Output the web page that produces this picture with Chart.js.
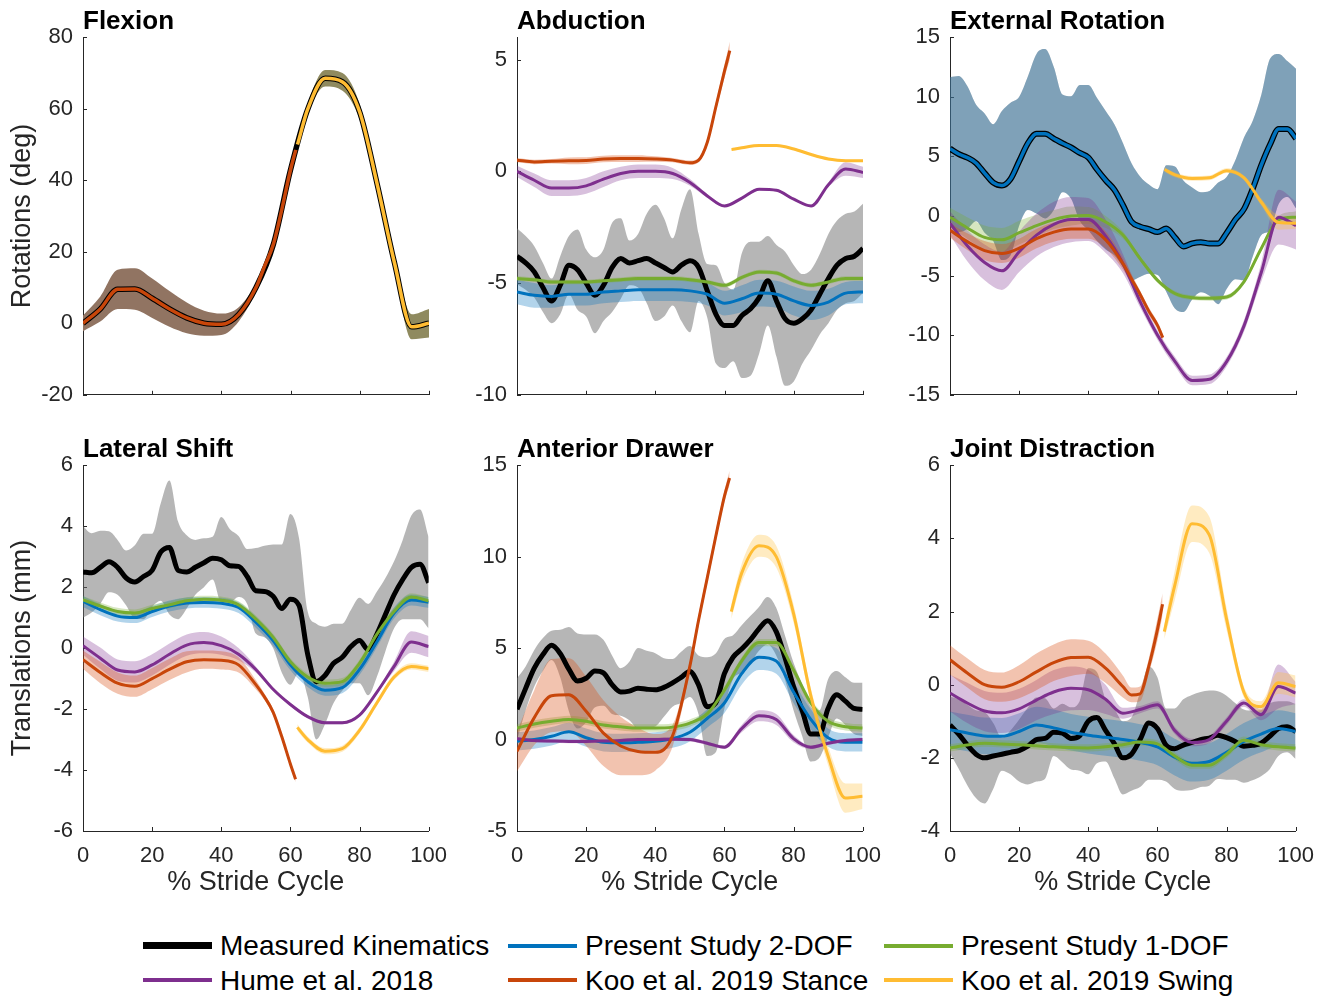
<!DOCTYPE html>
<html lang="en">
<head>
  <meta charset="UTF-8" />
  <title>Knee kinematics over the stride cycle</title>
  <script src="https://cdn.jsdelivr.net/npm/chart.js"></script>
  <style>
    body { margin: 0; background: #fff; font-family: 'Liberation Sans', Arial, Helvetica, sans-serif; }
    #wrap { position: relative; width: 1328px; height: 996px; overflow: hidden; background: #fff; }
    canvas.panel { position: absolute; }
    .lg-line { position: absolute; width: 69px; }
    .lg-text { position: absolute; font-size: 28px; line-height: 28px; color: #000; white-space: nowrap; }
  </style>
</head>
<body>
<div id="wrap">
  <canvas id="p0" class="panel"></canvas>
  <canvas id="p1" class="panel"></canvas>
  <canvas id="p2" class="panel"></canvas>
  <canvas id="p3" class="panel"></canvas>
  <canvas id="p4" class="panel"></canvas>
  <canvas id="p5" class="panel"></canvas>
  <div id="legend"></div>
</div>

<script>
// % stride cycle sample points
const X5 = [0,5,10,15,20,25,30,35,40,45,50,55,60,65,70,75,80,85,90,95,100];
const X25 = [0,2.5,5,7.5,10,12.5,15,17.5,20,22.5,25,27.5,30,32.5,35,37.5,40,42.5,45,47.5,50,52.5,55,57.5,60,62.5,65,67.5,70,72.5,75,77.5,80,82.5,85,87.5,90,92.5,95,97.5,100];
const KOO_ST_X = [0,5,10,15,20,25,30,35,40,45,50,52.5,55,57.5,60,61.5];
const KOO_SW_X = [62,65,70,75,80,85,90,95,100];

// Flexion (deg)
const flexMean = [0,4,9.5,9.6,7,4,1.5,0,-0.3,2.5,10,22,43,60,68.5,67.5,59,39,17,-1,0];
const flexStance = [0,4,9.5,9.6,7,4,1.5,0,-0.3,2.5,10,16,22,32,43,48.5];
const flexStanceSd = [2.2,3.5,5.5,5.8,5.5,5,4.3,3.5,3,2,1.2,1,1,1,1,1];
const flexSwing = [50,60,68.5,67.5,59,39,17,-1,0];
const flexSwingSd = [1.2,1.5,2.3,2.5,2.2,1.8,2,3.5,4];

// Abduction (deg)
const abdMeas = [-3.8,-4.1,-4.5,-5.2,-5.8,-5.1,-4.2,-4.4,-5.0,-5.55,-5.1,-4.3,-3.9,-4.1,-4.0,-3.9,-4.1,-4.3,-4.5,-4.2,-4.0,-4.3,-5.35,-6.4,-6.9,-6.9,-6.45,-6.15,-5.65,-4.9,-5.8,-6.6,-6.8,-6.6,-6.2,-5.5,-4.8,-4.2,-3.9,-3.8,-3.45];
const abdMeasSd = [1.25,1.2,1.15,1.1,1.0,1.3,1.3,1.8,1.5,1.7,1.6,2.0,1.8,1.0,1.2,2.0,2.6,2.2,1.5,2.5,3.2,1.5,1.2,2.2,1.9,1.6,2.8,3.0,2.5,2.0,2.5,3.0,2.6,2.0,1.8,1.8,2.0,2.0,2.0,2.0,2.0];
const abd2dof = [-5.4,-5.55,-5.6,-5.5,-5.5,-5.4,-5.35,-5.3,-5.3,-5.3,-5.35,-5.5,-5.9,-5.7,-5.45,-5.5,-5.8,-6.0,-5.85,-5.45,-5.4];
const abd2dofSd = [0.55,0.55,0.5,0.5,0.5,0.5,0.5,0.5,0.5,0.5,0.5,0.5,0.55,0.6,0.6,0.6,0.65,0.65,0.6,0.5,0.5];
const abd1dof = [-4.8,-4.85,-4.95,-4.95,-4.95,-4.9,-4.85,-4.8,-4.8,-4.8,-4.85,-4.95,-5.1,-4.75,-4.5,-4.55,-4.9,-5.1,-4.95,-4.8,-4.8];
const abd1dofSd = [0.1,0.1,0.1,0.1,0.1,0.1,0.1,0.1,0.1,0.1,0.1,0.1,0.1,0.1,0.1,0.1,0.1,0.1,0.1,0.1,0.1];
const abdHume = [0,-0.4,-0.75,-0.75,-0.65,-0.35,-0.1,0.0,0.0,-0.1,-0.5,-1.1,-1.55,-1.2,-0.8,-0.85,-1.25,-1.55,-0.6,0.1,-0.05];
const abdHumeSd = [0.25,0.3,0.35,0.35,0.35,0.35,0.3,0.3,0.3,0.25,0.15,0.08,0.05,0.05,0.05,0.05,0.05,0.05,0.1,0.3,0.25];
const abdKooSt = [0.5,0.42,0.45,0.47,0.48,0.55,0.57,0.57,0.55,0.5,0.38,0.5,1.3,2.9,4.5,5.4];
const abdKooStSd = [0.1,0.1,0.1,0.15,0.15,0.15,0.15,0.15,0.12,0.1,0.1,0.1,0.15,0.2,0.3,0.4];
const abdKooSw = [0.97,1.05,1.15,1.15,1.0,0.75,0.55,0.47,0.47];
const abdKooSwSd = [0.05,0.05,0.05,0.05,0.05,0.05,0.05,0.05,0.05];

// External rotation (deg)
const extMeas = [5.65,5.2,4.9,4.45,3.6,2.8,2.55,3.1,4.6,6.1,6.9,6.9,6.5,6.1,5.75,5.3,4.9,3.9,3.0,2.2,0.9,-0.5,-0.9,-1.1,-1.35,-1.05,-1.8,-2.55,-2.3,-2.2,-2.3,-2.3,-1.4,-0.3,0.6,2.3,4.3,6.0,7.3,7.3,6.5];
const extMeasSd = [6.0,6.55,6.0,4.9,5.0,4.9,6.25,6.4,5.4,5.6,6.7,7.1,6.0,4.1,4.3,5.7,6.1,6.0,5.8,5.5,5.2,4.9,4.2,3.75,3.6,5.3,5.95,5.5,4.7,4.2,4.4,5.1,4.7,5.0,6.0,5.7,5.9,7.2,6.3,5.7,5.85];
const ext2dof = extMeas;     // driven with the measured rotation, curves coincide (X25 grid)
const ext2dofSd = extMeasSd;
const ext1dof = [-0.1,-1.0,-1.8,-2.0,-1.4,-0.8,-0.3,0.0,0.05,-0.5,-1.6,-3.6,-5.4,-6.5,-6.85,-6.9,-6.8,-5.5,-2.7,-0.3,-0.1];
const ext1dofSd = [0.8,0.9,1.0,1.0,1.0,0.9,0.8,0.8,0.7,0.5,0.3,0.2,0.2,0.2,0.2,0.2,0.2,0.2,0.2,0.3,0.5];
const extHume = [-0.6,-2.5,-3.9,-4.6,-3.0,-1.6,-0.7,-0.3,-0.3,-1.7,-4.0,-7.2,-10.0,-12.2,-13.8,-13.7,-12.2,-9.2,-4.7,-0.1,-0.8];
const extHumeSd = [1.0,1.3,1.5,1.6,1.7,1.8,1.9,1.9,1.8,1.4,0.8,0.5,0.4,0.4,0.4,0.4,0.4,0.5,0.8,2.3,2.0];
const extKooSt = [-1.2,-2.15,-2.9,-3.15,-2.7,-1.9,-1.35,-1.1,-1.1,-2.0,-4.0,-5.3,-6.6,-8.0,-9.2,-10.2];
const extKooStSd = [0.6,0.7,0.8,0.8,0.8,0.8,0.8,0.8,0.8,0.7,0.5,0.4,0.3,0.3,0.3,0.3];
const extKooSw = [3.9,3.45,3.15,3.2,3.8,3.2,1.15,-0.55,-0.6];
const extKooSwSd = [0.2,0.2,0.2,0.2,0.2,0.2,0.3,0.6,0.5];

// Lateral shift (mm)
const latMeas = [2.5,2.47,2.65,2.83,2.65,2.3,2.17,2.35,2.55,3.15,3.3,2.55,2.5,2.65,2.8,2.95,2.9,2.7,2.68,2.35,1.88,1.86,1.7,1.3,1.6,1.4,-0.2,-1.1,-0.9,-0.5,-0.3,0.05,0.25,-0.05,0.45,1.1,1.75,2.25,2.65,2.75,2.15];
const latMeasSd = [1.5,1.3,1.2,1.0,0.9,0.9,1.2,1.4,1.2,1.6,2.2,1.6,1.2,0.9,0.8,0.7,1.4,1.2,1.0,0.9,1.4,1.5,1.7,2.1,2.8,2.2,1.4,1.9,1.6,1.3,1.1,1.2,1.4,1.5,1.4,1.2,1.1,1.3,1.7,1.8,1.5];
const lat2dof = [1.53,1.26,1.05,1.0,1.2,1.38,1.48,1.5,1.47,1.33,0.85,0.25,-0.55,-1.1,-1.38,-1.3,-0.7,0.2,1.15,1.58,1.5];
const lat2dofSd = [0.18,0.18,0.18,0.18,0.18,0.18,0.18,0.18,0.18,0.18,0.18,0.18,0.18,0.18,0.18,0.18,0.18,0.18,0.18,0.18,0.18];
const lat1dof = [1.58,1.38,1.2,1.15,1.3,1.42,1.55,1.6,1.57,1.42,0.95,0.35,-0.45,-0.95,-1.15,-1.1,-0.5,0.45,1.2,1.68,1.55];
const lat1dofSd = [0.12,0.12,0.12,0.12,0.12,0.12,0.12,0.12,0.12,0.12,0.12,0.12,0.12,0.12,0.12,0.12,0.12,0.12,0.12,0.12,0.12];
const latHume = [0.08,-0.33,-0.72,-0.78,-0.55,-0.2,0.1,0.18,0.08,-0.2,-0.7,-1.35,-1.85,-2.25,-2.45,-2.45,-2.2,-1.45,-0.6,0.2,0.05];
const latHumeSd = [0.3,0.35,0.35,0.35,0.35,0.35,0.35,0.35,0.3,0.2,0.1,0.05,0.05,0.05,0.05,0.05,0.05,0.05,0.15,0.35,0.35];
const latKooSt = [-0.38,-0.8,-1.15,-1.25,-1.0,-0.7,-0.45,-0.38,-0.4,-0.55,-1.2,-1.6,-2.1,-2.9,-3.8,-4.3];
const latKooStSd = [0.3,0.35,0.35,0.35,0.35,0.35,0.35,0.3,0.3,0.25,0.15,0.1,0.1,0.1,0.1,0.1];
const latKooSw = [-2.6,-3.0,-3.38,-3.3,-2.7,-1.8,-0.95,-0.6,-0.68];
const latKooSwSd = [0.1,0.1,0.1,0.1,0.1,0.1,0.1,0.1,0.1];

// Anterior drawer (mm)
const antMeas = [1.65,2.8,3.9,4.65,5.15,4.7,3.85,3.2,3.35,3.75,3.65,3.0,2.6,2.65,2.8,2.75,2.72,2.85,3.1,3.4,3.72,3.0,1.8,2.0,3.6,4.5,4.95,5.45,6.05,6.5,5.9,4.5,2.9,1.6,0.3,0.3,1.7,2.45,2.1,1.7,1.65];
const antMeasSd = [1.7,1.2,1.0,0.9,0.8,1.3,2.3,2.6,2.4,2.0,1.8,1.6,1.3,1.6,2.2,2.1,2.0,1.6,1.3,1.4,1.4,1.6,2.7,2.7,1.9,1.2,1.3,1.3,1.2,1.3,1.3,1.2,1.3,1.4,1.5,1.3,1.6,1.3,1.3,1.4,1.45];
const ant2dof = [-0.1,0.0,0.18,0.42,0.1,-0.15,-0.18,-0.15,-0.1,0.05,0.4,1.15,2.0,3.6,4.5,4.3,2.6,1.1,0.1,-0.15,-0.15];
const ant2dofSd = [0.5,0.5,0.5,0.5,0.5,0.5,0.5,0.5,0.5,0.5,0.5,0.5,0.55,0.6,0.7,0.7,0.6,0.55,0.5,0.5,0.5];
const ant1dof = [0.63,0.85,1.0,1.1,1.0,0.8,0.7,0.63,0.63,0.68,0.9,1.4,2.7,4.3,5.3,5.3,3.8,2.0,1.0,0.7,0.63];
const ant1dofSd = [0.2,0.2,0.2,0.2,0.2,0.2,0.2,0.2,0.2,0.2,0.2,0.2,0.2,0.2,0.2,0.2,0.2,0.2,0.2,0.2,0.2];
const antHume = [0.04,-0.05,-0.08,-0.1,-0.1,-0.08,-0.05,0.0,0.0,0.02,0.0,-0.2,-0.42,0.6,1.3,1.1,0.05,-0.42,-0.2,-0.05,0.0];
const antHumeSd = [0.1,0.1,0.1,0.1,0.1,0.1,0.1,0.1,0.1,0.1,0.1,0.1,0.1,0.2,0.3,0.3,0.2,0.1,0.1,0.1,0.1];
const antKooSt = [-0.65,1.2,2.4,2.45,1.55,0.35,-0.35,-0.65,-0.7,0.2,4.0,6.5,8.8,11.1,13.3,14.3];
const antKooStSd = [1.1,1.5,2.0,2.0,1.9,1.8,1.6,1.3,1.0,0.6,0.3,0.3,0.3,0.3,0.3,0.4];
const antKooSw = [7.0,9.1,10.6,10.0,6.9,2.4,-0.9,-3.2,-3.1];
const antKooSwSd = [0.4,0.5,0.6,0.6,0.5,0.4,0.5,0.8,0.7];

// Joint distraction (mm)
const jdMeas = [-1.1,-1.35,-1.65,-1.9,-2.0,-1.95,-1.9,-1.85,-1.8,-1.68,-1.5,-1.47,-1.3,-1.32,-1.47,-1.4,-1.0,-0.9,-1.25,-1.6,-2.0,-1.9,-1.5,-1.05,-1.2,-1.65,-1.75,-1.65,-1.58,-1.5,-1.46,-1.38,-1.45,-1.55,-1.68,-1.66,-1.6,-1.41,-1.2,-1.15,-1.28];
const jdMeasSd = [0.78,0.95,1.1,1.2,1.25,0.9,0.45,0.6,0.85,1.05,1.15,1.1,0.65,0.8,0.85,0.95,1.45,1.25,0.85,0.95,1.0,1.0,1.3,1.55,1.4,1.0,1.1,1.25,1.3,1.3,1.3,1.2,1.15,1.05,1.0,0.95,0.9,0.9,0.75,0.7,0.75];
const jd2dof = [-1.23,-1.32,-1.4,-1.41,-1.28,-1.1,-1.18,-1.3,-1.38,-1.44,-1.5,-1.58,-1.7,-1.98,-2.15,-2.1,-1.85,-1.55,-1.35,-1.2,-1.28];
const jd2dofSd = [0.5,0.5,0.5,0.5,0.5,0.5,0.5,0.5,0.5,0.5,0.5,0.5,0.5,0.5,0.5,0.5,0.5,0.5,0.5,0.5,0.5];
const jd1dof = [-1.73,-1.65,-1.6,-1.62,-1.64,-1.67,-1.7,-1.72,-1.73,-1.7,-1.64,-1.57,-1.62,-1.95,-2.2,-2.2,-1.9,-1.52,-1.64,-1.7,-1.73];
const jd1dofSd = [0.1,0.1,0.1,0.1,0.1,0.1,0.1,0.1,0.1,0.1,0.1,0.1,0.1,0.1,0.1,0.1,0.1,0.1,0.1,0.1,0.1];
const jdHume = [-0.23,-0.5,-0.72,-0.77,-0.66,-0.42,-0.2,-0.1,-0.14,-0.4,-0.78,-0.68,-0.55,-1.25,-1.58,-1.5,-1.0,-0.5,-0.82,-0.05,-0.23];
const jdHumeSd = [0.5,0.55,0.55,0.55,0.55,0.55,0.6,0.6,0.55,0.4,0.15,0.1,0.1,0.1,0.1,0.1,0.1,0.1,0.15,0.6,0.3];
const jdKooSt = [0.68,0.32,0.0,-0.07,0.08,0.35,0.6,0.74,0.75,0.45,-0.05,-0.28,-0.25,0.5,1.5,2.2];
const jdKooStSd = [0.4,0.4,0.4,0.4,0.45,0.5,0.5,0.5,0.45,0.4,0.3,0.2,0.2,0.2,0.3,0.3];
const jdKooSw = [1.45,2.7,4.4,4.1,1.8,-0.2,-0.6,0.05,-0.05];
const jdKooSwSd = [0.2,0.4,0.5,0.5,0.3,0.15,0.15,0.3,0.3];

// colours
const C = {
  meas: '#000000', dof2: 'rgb(0,114,189)', dof1: 'rgb(119,172,48)',
  hume: 'rgb(126,47,142)', kst: 'rgb(200,70,10)', ksw: 'rgb(255,188,50)'
};
const B = {
  meas: 'rgba(110,110,110,0.5)', dof2: 'rgba(0,114,189,0.3)', dof1: 'rgba(119,172,48,0.3)',
  hume: 'rgba(126,47,142,0.3)', kst: 'rgba(217,83,25,0.35)', ksw: 'rgba(255,188,50,0.3)',
  flexSt: 'rgb(145,116,98)', flexSw: 'rgb(143,138,95)'
};
const FONT = "'Liberation Sans', Arial, Helvetica, sans-serif";
const AXIS = '#262626';

Chart.defaults.font.family = FONT;
Chart.defaults.color = AXIS;

// inward tick marks, matlab style
const inwardTicks = {
  id: 'inwardTicks',
  beforeDatasetsDraw(chart) {
    const { ctx, chartArea: a, scales: { x, y } } = chart;
    ctx.save();
    ctx.strokeStyle = AXIS;
    ctx.lineWidth = 1;
    ctx.beginPath();
    x.ticks.forEach(t => {
      const px = Math.round(x.getPixelForValue(t.value)) + 0.5;
      ctx.moveTo(px, a.bottom); ctx.lineTo(px, a.bottom - 4);
    });
    y.ticks.forEach(t => {
      const py = Math.round(y.getPixelForValue(t.value)) + 0.5;
      ctx.moveTo(a.left, py); ctx.lineTo(a.left + 4, py);
    });
    ctx.stroke();
    ctx.restore();
  }
};

function pts(xs, ys, off, k) {
  return xs.map((x, i) => ({ x, y: ys[i] + (off ? k * off[i] : 0) }));
}

function buildDatasets(series) {
  const ds = [];
  series.forEach(s => {
    if (!s.sd) return;
    ds.push({ data: pts(s.x, s.m, s.sd, 1), fill: '+1', backgroundColor: s.band, borderWidth: 0, borderColor: 'rgba(0,0,0,0)' });
    ds.push({ data: pts(s.x, s.m, s.sd, -1), fill: false, borderWidth: 0, borderColor: 'rgba(0,0,0,0)' });
  });
  series.forEach(s => {
    ds.push({ data: pts(s.x, s.m), fill: false, borderColor: s.color, borderWidth: s.w });
  });
  // later entries sit on top
  ds.forEach((d, i) => {
    d.order = ds.length - i;
    d.pointRadius = 0;
    d.tension = 0.4;
    d.cubicInterpolationMode = 'monotone';
  });
  return ds;
}

const COLS = [83, 516.5, 950];
const ROWS = [37.5, 465.3];
const PW = 346, TITLE_H = 40.2, YW = 85;

function makePanel(id, col, row, title, yMin, yMax, yStep, yTitle, series) {
  const cv = document.getElementById(id);
  const bottomRow = row === 1;
  const xh = bottomRow ? 75 : 0;
  const padB = bottomRow ? 0 : 15;
  cv.width = YW + PW + 30;
  cv.height = bottomRow ? 481 : 421;
  cv.style.left = (COLS[col] - YW) + 'px';
  cv.style.top = (ROWS[row] - TITLE_H) + 'px';

  new Chart(cv, {
    type: 'line',
    data: { datasets: buildDatasets(series) },
    options: {
      responsive: false,
      animation: false,
      events: [],
      devicePixelRatio: 1,
      layout: { padding: { left: 0, right: 30, top: 0, bottom: padB } },
      plugins: {
        legend: { display: false },
        tooltip: { enabled: false },
        title: {
          display: true, text: title, align: 'start', fullSize: false, color: '#000',
          font: { size: 26, weight: 'bold', family: FONT }, padding: { top: 9, bottom: 0 }
        }
      },
      scales: {
        x: {
          type: 'linear', min: 0, max: 100,
          grid: { display: false, drawTicks: false },
          border: { display: true, color: AXIS, width: 1 },
          ticks: { stepSize: 20, display: bottomRow, padding: 12, color: AXIS, font: { size: 22 } },
          title: { display: bottomRow, text: '% Stride Cycle', color: AXIS, font: { size: 27 }, padding: { top: 0, bottom: 7 } },
          afterFit: s => { s.height = xh; }
        },
        y: {
          min: yMin, max: yMax,
          grid: { display: false, drawTicks: false },
          border: { display: true, color: AXIS, width: 1 },
          ticks: { stepSize: yStep, includeBounds: false, padding: 10, color: AXIS, font: { size: 22 } },
          title: { display: !!yTitle, text: yTitle || '', color: AXIS, font: { size: 27 }, padding: { top: 8.3, bottom: 0 } },
          afterFit: s => { s.width = YW; }
        }
      }
    },
    plugins: [inwardTicks]
  });
}

function modelSeries(meas, measSd, d2, d2Sd, d1, d1Sd, hu, huSd, st, stSd, sw, swSd) {
  return [
    { x: X25, m: meas, sd: measSd, band: B.meas, color: C.meas, w: 5 },
    { x: X5, m: d2, sd: d2Sd, band: B.dof2, color: C.dof2, w: 3 },
    { x: X5, m: d1, sd: d1Sd, band: B.dof1, color: C.dof1, w: 3 },
    { x: X5, m: hu, sd: huSd, band: B.hume, color: C.hume, w: 3 },
    { x: KOO_ST_X, m: st, sd: stSd, band: B.kst, color: C.kst, w: 3 },
    { x: KOO_SW_X, m: sw, sd: swSd, band: B.ksw, color: C.ksw, w: 3 }
  ];
}

makePanel('p0', 0, 0, 'Flexion', -20, 80, 20, 'Rotations (deg)', [
  { x: X5, m: flexMean, color: C.meas, w: 5.5 },
  { x: KOO_ST_X, m: flexStance, sd: flexStanceSd, band: B.flexSt, color: C.kst, w: 3.5 },
  { x: KOO_SW_X, m: flexSwing, sd: flexSwingSd, band: B.flexSw, color: C.ksw, w: 3.5 }
]);
makePanel('p1', 1, 0, 'Abduction', -10, 6, 5, null,
  modelSeries(abdMeas, abdMeasSd, abd2dof, abd2dofSd, abd1dof, abd1dofSd, abdHume, abdHumeSd, abdKooSt, abdKooStSd, abdKooSw, abdKooSwSd));
const extSeries = modelSeries(extMeas, extMeasSd, ext2dof, ext2dofSd, ext1dof, ext1dofSd, extHume, extHumeSd, extKooSt, extKooStSd, extKooSw, extKooSwSd);
extSeries[0].w = 6;
extSeries[1].x = X25;
extSeries[1].w = 3.5;
makePanel('p2', 2, 0, 'External Rotation', -15, 15, 5, null, extSeries);
makePanel('p3', 0, 1, 'Lateral Shift', -6, 6, 2, 'Translations (mm)',
  modelSeries(latMeas, latMeasSd, lat2dof, lat2dofSd, lat1dof, lat1dofSd, latHume, latHumeSd, latKooSt, latKooStSd, latKooSw, latKooSwSd));
makePanel('p4', 1, 1, 'Anterior Drawer', -5, 15, 5, null,
  modelSeries(antMeas, antMeasSd, ant2dof, ant2dofSd, ant1dof, ant1dofSd, antHume, antHumeSd, antKooSt, antKooStSd, antKooSw, antKooSwSd));
makePanel('p5', 2, 1, 'Joint Distraction', -4, 6, 2, null,
  modelSeries(jdMeas, jdMeasSd, jd2dof, jd2dofSd, jd1dof, jd1dofSd, jdHume, jdHumeSd, jdKooSt, jdKooStSd, jdKooSw, jdKooSwSd));

// legend
const legendNames = ['Measured Kinematics', 'Present Study 2-DOF', 'Present Study 1-DOF', 'Hume et al. 2018', 'Koo et al. 2019 Stance', 'Koo et al. 2019 Swing'];
const legendColors = [C.meas, C.dof2, C.dof1, C.hume, C.kst, C.ksw];
const legendWidths = [7, 4, 4, 4, 4, 4];
const LG_X = [143, 508, 884];
const LG_Y = [945.5, 980];
const lg = document.getElementById('legend');
legendNames.forEach((name, i) => {
  const cx = LG_X[i % 3], cy = LG_Y[Math.floor(i / 3)];
  const line = document.createElement('div');
  line.className = 'lg-line';
  line.style.left = cx + 'px';
  line.style.top = (cy - legendWidths[i] / 2) + 'px';
  line.style.height = legendWidths[i] + 'px';
  line.style.background = legendColors[i];
  lg.appendChild(line);
  const txt = document.createElement('div');
  txt.className = 'lg-text';
  txt.style.left = (cx + 77) + 'px';
  txt.style.top = (cy - 13.5) + 'px';
  txt.textContent = name;
  lg.appendChild(txt);
});
</script>
</body>
</html>
